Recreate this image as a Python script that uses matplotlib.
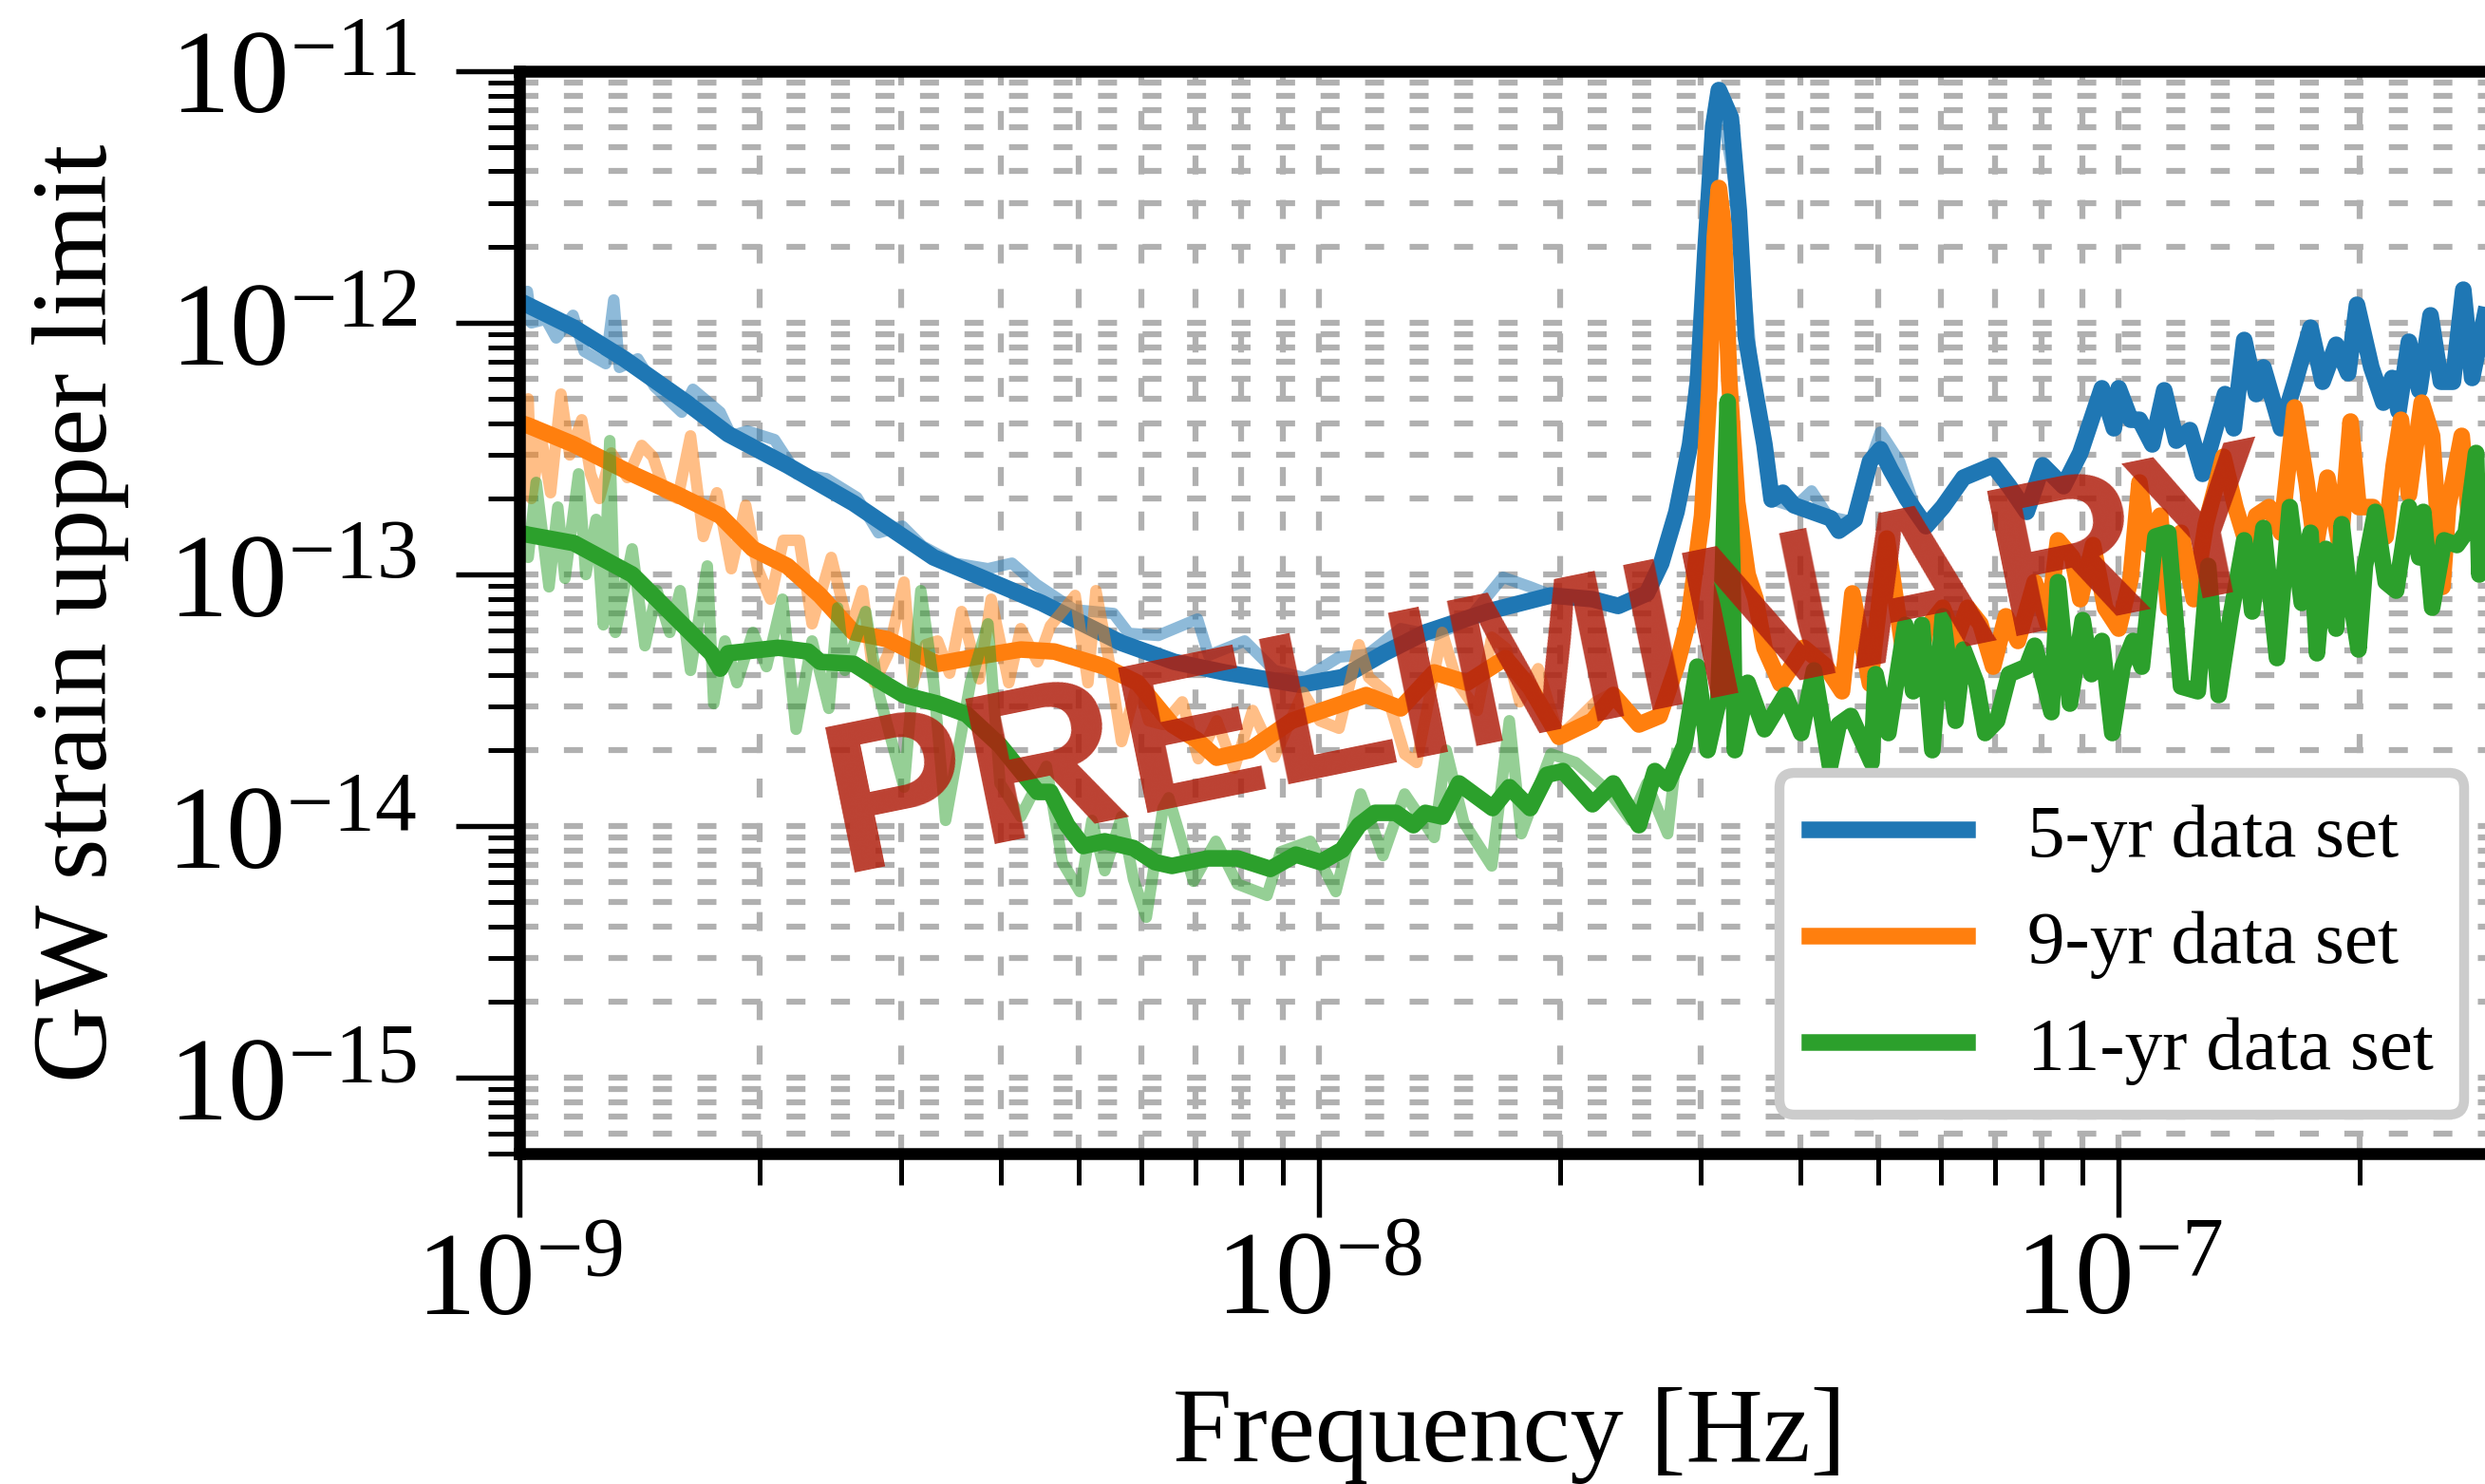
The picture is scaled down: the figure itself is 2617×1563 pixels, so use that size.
import numpy as np
import matplotlib
matplotlib.use("Agg")
import matplotlib.pyplot as plt
from matplotlib.ticker import LogLocator, NullFormatter

# GW strain upper limit vs frequency
# stored as log10(f / Hz) and log10(h), as usual for PTA limits

# 5-yr data set, smoothed curve
lf_5yr = [-9.000, -8.932, -8.869, -8.791, -8.739, -8.665, -8.582, -8.482, -8.425, -8.347,
          -8.247, -8.181, -8.118, -8.024, -7.971, -7.919, -7.867, -7.789, -7.710, -7.658,
          -7.626, -7.590, -7.572, -7.553, -7.536, -7.526, -7.517, -7.507, -7.500, -7.485,
          -7.475, -7.466, -7.457, -7.443, -7.434, -7.420, -7.406, -7.360, -7.350, -7.330,
          -7.311, -7.298, -7.285, -7.265, -7.241, -7.220, -7.194, -7.157, -7.137, -7.115,
          -7.095, -7.069, -7.048, -7.021, -7.006, -7.000, -6.985, -6.974, -6.958, -6.943,
          -6.928, -6.911, -6.895, -6.867, -6.856, -6.843, -6.828, -6.819, -6.797, -6.778,
          -6.760, -6.745, -6.728, -6.713, -6.702, -6.684, -6.669, -6.658, -6.650, -6.637,
          -6.624, -6.610, -6.597, -6.582, -6.569, -6.558, -6.542]
lh_5yr = [-11.913, -12.019, -12.143, -12.317, -12.442, -12.566, -12.717, -12.932, -13.008, -13.113,
          -13.272, -13.347, -13.389, -13.438, -13.408, -13.313, -13.230, -13.147, -13.083, -13.098,
          -13.125, -13.075, -12.955, -12.751, -12.483, -12.230, -11.725, -11.219, -11.075, -11.185,
          -11.555, -12.060, -12.230, -12.483, -12.702, -12.675, -12.725, -12.777, -12.826, -12.781,
          -12.551, -12.502, -12.585, -12.698, -12.808, -12.732, -12.615, -12.566, -12.649, -12.751,
          -12.566, -12.649, -12.517, -12.260, -12.419, -12.260, -12.385, -12.385, -12.483, -12.268,
          -12.468, -12.426, -12.600, -12.283, -12.419, -12.068, -12.283, -12.177, -12.419, -12.219,
          -12.019, -12.234, -12.087, -12.200, -11.928, -12.177, -12.317, -12.219, -12.351, -12.075,
          -12.268, -11.970, -12.234, -12.234, -11.868, -12.219, -11.970]

# 5-yr data set, raw curve (drawn faint)
lf_5yr_raw = [-9.000, -8.990, -8.985, -8.967, -8.954, -8.933, -8.919, -8.892, -8.882, -8.875,
              -8.852, -8.831, -8.797, -8.783, -8.749, -8.735, -8.715, -8.681, -8.653, -8.616,
              -8.578, -8.551, -8.521, -8.496, -8.456, -8.414, -8.384, -8.354, -8.306, -8.257,
              -8.238, -8.201, -8.152, -8.138, -8.093, -8.056, -8.017, -7.975, -7.939, -7.898,
              -7.856, -7.815, -7.770, -7.736, -7.702, -7.654, -7.619, -7.583, -7.559, -7.536,
              -7.517, -7.500, -7.475, -7.457, -7.434, -7.405, -7.384, -7.363, -7.334, -7.312,
              -7.298, -7.274, -7.257]
lh_5yr_raw = [-11.913, -11.875, -12.000, -11.985, -12.060, -11.970, -12.113, -12.162, -11.909, -12.177,
              -12.143, -12.253, -12.355, -12.264, -12.355, -12.449, -12.430, -12.464, -12.600, -12.619,
              -12.694, -12.834, -12.808, -12.887, -12.955, -12.977, -12.955, -13.038, -13.140, -13.155,
              -13.234, -13.242, -13.177, -13.321, -13.264, -13.381, -13.411, -13.328, -13.317, -13.215,
              -13.242, -13.185, -13.011, -13.049, -13.091, -13.098, -13.117, -13.053, -12.826, -12.483,
              -11.725, -11.075, -11.555, -12.230, -12.702, -12.732, -12.668, -12.770, -12.789, -12.562,
              -12.434, -12.551, -12.713]

# 9-yr data set, smoothed curve
lf_9yr = [-9.000, -8.989, -8.932, -8.859, -8.802, -8.749, -8.708, -8.665, -8.624, -8.582,
          -8.540, -8.477, -8.425, -8.373, -8.331, -8.268, -8.227, -8.184, -8.153, -8.128,
          -8.087, -8.034, -7.971, -7.941, -7.898, -7.856, -7.815, -7.767, -7.736, -7.700,
          -7.658, -7.632, -7.600, -7.574, -7.553, -7.538, -7.521, -7.512, -7.505, -7.500,
          -7.494, -7.487, -7.477, -7.464, -7.454, -7.443, -7.423, -7.394, -7.367, -7.346,
          -7.333, -7.311, -7.290, -7.270, -7.252, -7.241, -7.220, -7.204, -7.189, -7.173,
          -7.157, -7.141, -7.126, -7.105, -7.089, -7.076, -7.058, -7.048, -7.032, -7.017,
          -7.000, -6.985, -6.974, -6.963, -6.948, -6.938, -6.922, -6.906, -6.891, -6.869,
          -6.854, -6.838, -6.828, -6.812, -6.797, -6.780, -6.765, -6.754, -6.739, -6.723,
          -6.710, -6.700, -6.682, -6.666, -6.656, -6.647, -6.637, -6.621, -6.608, -6.595,
          -6.588, -6.571, -6.562, -6.542]
lh_9yr = [-12.396, -12.408, -12.483, -12.600, -12.683, -12.766, -12.898, -12.966, -13.083, -13.230,
          -13.257, -13.355, -13.325, -13.298, -13.306, -13.366, -13.430, -13.596, -13.657, -13.728,
          -13.698, -13.581, -13.513, -13.479, -13.532, -13.389, -13.430, -13.332, -13.449, -13.645,
          -13.581, -13.479, -13.596, -13.562, -13.366, -13.181, -12.766, -12.268, -11.657, -11.464,
          -11.619, -12.230, -12.713, -13.000, -13.098, -13.291, -13.434, -13.291, -13.362, -13.464,
          -13.075, -13.434, -12.857, -13.291, -13.415, -13.215, -13.132, -13.264, -13.132, -13.196,
          -13.366, -13.166, -13.264, -13.030, -13.196, -12.864, -12.932, -13.098, -12.883, -13.132,
          -13.215, -13.015, -12.634, -12.883, -12.766, -13.132, -12.834, -13.098, -12.800, -12.532,
          -12.732, -12.898, -12.766, -12.732, -12.834, -12.336, -12.634, -12.898, -12.615, -12.898,
          -12.392, -12.732, -12.732, -12.849, -12.566, -12.385, -12.683, -12.317, -12.449, -13.049,
          -12.732, -12.449, -12.766, -12.634]

# 9-yr data set, raw curve
lf_9yr_raw = [-9.000, -8.989, -8.985, -8.973, -8.961, -8.948, -8.937, -8.922, -8.911, -8.900,
              -8.885, -8.865, -8.847, -8.833, -8.818, -8.802, -8.786, -8.770, -8.753, -8.735,
              -8.717, -8.702, -8.686, -8.670, -8.650, -8.634, -8.610, -8.587, -8.571, -8.556,
              -8.539, -8.519, -8.508, -8.492, -8.477, -8.462, -8.447, -8.425, -8.410, -8.388,
              -8.373, -8.352, -8.336, -8.321, -8.305, -8.289, -8.279, -8.262, -8.247, -8.227,
              -8.213, -8.195, -8.171, -8.151, -8.128, -8.106, -8.083, -8.056, -8.020, -7.999,
              -7.975, -7.950, -7.938, -7.916, -7.893, -7.878, -7.846, -7.827, -7.802, -7.784,
              -7.766, -7.749, -7.726, -7.700, -7.678, -7.654, -7.631, -7.600, -7.574]
lh_9yr_raw = [-12.336, -12.302, -12.698, -12.449, -12.675, -12.283, -12.525, -12.385, -12.600, -12.698,
              -12.517, -12.615, -12.487, -12.532, -12.675, -12.698, -12.449, -12.849, -12.675, -12.977,
              -12.725, -12.977, -13.098, -12.864, -12.864, -13.196, -12.932, -13.230, -13.064, -13.430,
              -13.317, -13.030, -13.430, -13.279, -13.264, -13.392, -13.147, -13.415, -13.098, -13.430,
              -13.215, -13.347, -13.204, -13.147, -13.083, -13.430, -13.064, -13.355, -13.664, -13.430,
              -13.581, -13.596, -13.506, -13.732, -13.581, -13.770, -13.540, -13.725, -13.468, -13.581,
              -13.611, -13.279, -13.408, -13.468, -13.713, -13.747, -13.230, -13.430, -13.540, -13.249,
              -13.294, -13.506, -13.374, -13.645, -13.581, -13.506, -13.468, -13.596, -13.562]

# 11-yr data set, smoothed curve
lf_11yr = [-9.000, -8.989, -8.932, -8.859, -8.828, -8.791, -8.760, -8.749, -8.739, -8.676,
           -8.639, -8.624, -8.582, -8.545, -8.519, -8.477, -8.441, -8.399, -8.373, -8.352,
           -8.336, -8.315, -8.295, -8.268, -8.232, -8.205, -8.184, -8.139, -8.102, -8.061,
           -8.029, -7.998, -7.971, -7.950, -7.930, -7.904, -7.882, -7.867, -7.846, -7.825,
           -7.804, -7.783, -7.762, -7.736, -7.715, -7.695, -7.658, -7.632, -7.600, -7.580,
           -7.564, -7.543, -7.527, -7.514, -7.501, -7.495, -7.489, -7.483, -7.480, -7.464,
           -7.443, -7.417, -7.397, -7.381, -7.361, -7.350, -7.335, -7.309, -7.304, -7.288,
           -7.267, -7.257, -7.246, -7.233, -7.220, -7.204, -7.194, -7.178, -7.167, -7.152,
           -7.137, -7.115, -7.105, -7.084, -7.076, -7.061, -7.045, -7.034, -7.021, -7.008,
           -6.995, -6.982, -6.971, -6.954, -6.938, -6.922, -6.901, -6.888, -6.875, -6.860,
           -6.843, -6.833, -6.819, -6.802, -6.786, -6.771, -6.760, -6.752, -6.741, -6.728,
           -6.721, -6.713, -6.700, -6.692, -6.679, -6.666, -6.653, -6.637, -6.624, -6.619,
           -6.608, -6.593, -6.577, -6.566, -6.553, -6.549, -6.542]
lh_11yr = [-12.834, -12.842, -12.875, -13.000, -13.098, -13.215, -13.313, -13.374, -13.313, -13.291,
           -13.306, -13.347, -13.355, -13.430, -13.479, -13.513, -13.555, -13.679, -13.781, -13.864,
           -13.864, -13.996, -14.079, -14.060, -14.087, -14.143, -14.158, -14.128, -14.128, -14.170,
           -14.113, -14.143, -14.094, -13.996, -13.947, -13.947, -13.996, -13.947, -13.962, -13.830,
           -13.879, -13.928, -13.845, -13.928, -13.796, -13.781, -13.913, -13.830, -13.996, -13.781,
           -13.830, -13.679, -13.366, -13.698, -13.513, -12.977, -12.313, -12.977, -13.698, -13.430,
           -13.615, -13.479, -13.630, -13.381, -13.762, -13.596, -13.562, -13.747, -13.396, -13.630,
           -13.200, -13.464, -13.200, -13.698, -13.166, -13.581, -13.298, -13.430, -13.630, -13.581,
           -13.396, -13.366, -13.283, -13.547, -13.030, -13.513, -13.181, -13.396, -13.264, -13.630,
           -13.366, -13.264, -13.366, -12.849, -12.834, -13.445, -13.464, -12.966, -13.479, -13.166,
           -12.864, -13.147, -12.815, -13.332, -12.732, -13.113, -12.834, -13.313, -12.898, -13.215,
           -12.800, -13.030, -13.298, -12.966, -12.751, -13.030, -13.064, -12.732, -12.932, -12.751,
           -13.132, -12.864, -12.883, -12.834, -12.517, -13.000, -12.766]

# 11-yr data set, raw curve
lf_11yr_raw = [-9.000, -8.989, -8.979, -8.963, -8.952, -8.943, -8.926, -8.917, -8.904, -8.895,
               -8.887, -8.880, -8.859, -8.843, -8.828, -8.812, -8.799, -8.786, -8.765, -8.757,
               -8.743, -8.728, -8.708, -8.691, -8.671, -8.654, -8.634, -8.613, -8.602, -8.593,
               -8.567, -8.550, -8.519, -8.498, -8.482, -8.467, -8.436, -8.414, -8.399, -8.373,
               -8.341, -8.321, -8.299, -8.284, -8.268, -8.247, -8.232, -8.216, -8.195, -8.188,
               -8.157, -8.129, -8.102, -8.065, -8.048, -8.011, -7.979, -7.948, -7.920, -7.893,
               -7.856, -7.841, -7.819, -7.784, -7.762, -7.747, -7.710, -7.679, -7.637, -7.610,
               -7.590, -7.564, -7.553]
lh_11yr_raw = [-12.834, -12.932, -12.634, -13.049, -12.732, -13.015, -12.600, -13.000, -12.781, -13.200,
               -12.468, -13.230, -12.898, -13.283, -13.064, -13.230, -13.064, -13.381, -12.966, -13.513,
               -13.264, -13.430, -13.230, -13.366, -13.098, -13.615, -13.264, -13.532, -13.132, -13.381,
               -13.147, -13.479, -13.845, -13.064, -13.430, -13.977, -13.430, -13.196, -13.830, -13.962,
               -13.762, -14.143, -14.260, -13.977, -14.177, -13.962, -14.211, -14.362, -13.928, -13.887,
               -14.219, -14.060, -14.230, -14.275, -14.102, -14.060, -14.260, -13.872, -14.117, -13.872,
               -14.045, -13.698, -13.985, -14.158, -13.581, -14.030, -13.713, -13.747, -13.864, -13.977,
               -13.830, -14.030, -13.713]

labels = ["5-yr data set", "9-yr data set", "11-yr data set"]
colors = ["C0", "C1", "C2"]

plt.rcParams['font.family'] = 'serif'
plt.rcParams['font.serif'] = ['Liberation Serif', 'DejaVu Serif']
plt.rcParams['mathtext.fontset'] = 'stix'

W, H = 2617, 1564
fig = plt.figure(figsize=(W / 300, H / 300), dpi=300)
ax = fig.add_axes([547 / W, 1 - 1216 / H, 2086 / W, 1140 / H])

series = [(lf_5yr_raw, lh_5yr_raw, lf_5yr, lh_5yr),
          (lf_9yr_raw, lh_9yr_raw, lf_9yr, lh_9yr),
          (lf_11yr_raw, lh_11yr_raw, lf_11yr, lh_11yr)]
for (fr, hr, fs, hs), c, lab in zip(series, colors, labels):
    ax.plot(10 ** np.array(fr), 10 ** np.array(hr), color=c, lw=2.9, alpha=0.5)
    ax.plot(10 ** np.array(fs), 10 ** np.array(hs), color=c, lw=4.2, label=lab)

ax.set_xscale('log')
ax.set_yscale('log')
ax.set_xlim(1e-9, 3e-7)
ax.set_ylim(5e-16, 1e-11)
# every decade labelled, all minor ticks shown
for axis in (ax.xaxis, ax.yaxis):
    axis.set_major_locator(LogLocator(base=10, numticks=20))
    axis.set_minor_locator(LogLocator(base=10, subs=np.arange(2, 10), numticks=20))
    axis.set_minor_formatter(NullFormatter())

ax.grid(True, which='both', color='#b0b0b0', lw=1.5, ls=(0, (3.2, 4.3)))
for s in ax.spines.values():
    s.set_linewidth(3)
ax.tick_params(which='major', direction='out', length=16, width=1.3, labelsize=30)
ax.tick_params(which='minor', direction='out', length=8, width=1.2)
ax.tick_params(axis='x', which='major', pad=3.5)
ax.tick_params(axis='y', which='major', pad=10)

ax.set_xlabel('Frequency [Hz]', fontsize=27)
ax.set_ylabel('GW strain upper limit', fontsize=27)
ax.xaxis.set_label_coords(0.5, -0.215)
ax.yaxis.set_label_coords(-0.1968, 0.5)

leg = ax.legend(loc='lower right', bbox_to_anchor=(0.9916, 0.2487), bbox_transform=fig.transFigure,
                borderaxespad=0, fontsize=19, handlelength=2.1, labelspacing=0.5,
                borderpad=0.4, fancybox=True, framealpha=1, edgecolor='0.8')
leg.get_frame().set_linewidth(2.5)

# watermark
fig.text(0.6296, 0.5115, 'PRELIMINARY', fontsize=54.5, fontweight='bold', family='Liberation Sans',
         color='#b0200e', alpha=0.85, rotation=11.5, rotation_mode='anchor',
         ha='center', va='baseline', zorder=10)

fig.savefig('out.png', dpi=300)
